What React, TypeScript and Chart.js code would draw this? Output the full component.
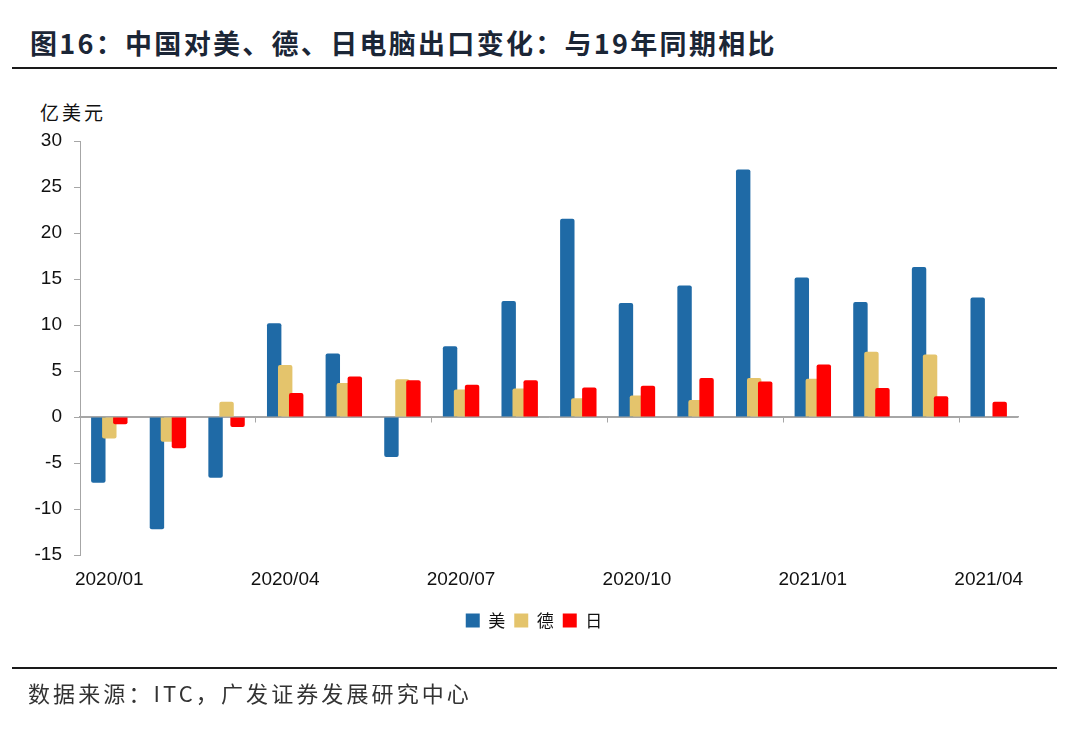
import React, { useEffect, useRef } from "react";
import { Chart, registerables } from "chart.js";

Chart.register(...registerables);

const categories = [
  "2020/01", "2020/02", "2020/03", "2020/04", "2020/05", "2020/06", "2020/07", "2020/08",
  "2020/09", "2020/10", "2020/11", "2020/12", "2021/01", "2021/02", "2021/03", "2021/04",
];
const seriesNames = ["美", "德", "日"];
const usValues = [-7.15, -12.2, -6.6, 10.2, 6.9, -4.35, 7.7, 12.6, 21.55, 12.4, 14.3, 26.9, 15.15, 12.5, 16.3, 13.0];
const deValues = [-2.35, -2.7, 1.65, 5.65, 3.7, 4.1, 3.0, 3.1, 2.05, 2.35, 1.85, 4.25, 4.15, 7.1, 6.8, null];
const jpValues = [-0.8, -3.4, -1.1, 2.6, 4.4, 4.0, 3.5, 4.0, 3.2, 3.4, 4.25, 3.85, 5.7, 3.15, 2.25, 1.65];
const seriesColors = ["#1F6AA6", "#E4C46C", "#FF0000"];
const yMin = -15;
const yMax = 30;
const yStep = 5;
const labelEvery = 3;

const titleText = "图16：中国对美、德、日电脑出口变化：与19年同期相比";
const unitText = "亿美元";
const sourceText = "数据来源：ITC，广发证券发展研究中心";

const drawOrderPlugin = {
  id: "drawOrder",
  beforeDatasetsDraw(chart: any) {
    const metas = chart.getSortedVisibleDatasetMetas();
    for (const meta of metas) meta.controller.draw();
    return false;
  },
};

const legendShiftPlugin = {
  id: "legendShift",
  beforeDraw(chart: any) {
    if (chart.legend) chart.legend.left = 50;
  },
};

export default function App() {
  const ref = useRef<HTMLCanvasElement | null>(null);

  useEffect(() => {
    if (!ref.current) return;
    const axisGray = "#A6A6A6";
    const chart = new Chart(ref.current, {
      type: "bar",
      data: {
        labels: categories,
        datasets: [usValues, deValues, jpValues].map((d, i) => ({
          label: seriesNames[i],
          data: d,
          backgroundColor: seriesColors[i],
          borderWidth: 0,
          borderRadius: 2,
          categoryPercentage: 0.563,
          barPercentage: 1.31,
        })),
      },
      options: {
        responsive: false,
        animation: false,
        events: [],
        layout: { padding: { left: 30, right: 62, top: 141, bottom: 95 } },
        plugins: {
          tooltip: { enabled: false },
          legend: {
            position: "bottom",
            labels: {
              boxWidth: 14,
              boxHeight: 14,
              padding: 9,
              color: "#111",
              font: { family: "'Noto Sans CJK SC'", size: 17 },
            },
          },
        },
        scales: {
          x: {
            type: "category",
            offset: true,
            grid: { display: false },
            border: { display: false },
            afterFit: (s: any) => { s.height = 48; },
            ticks: {
              autoSkip: false,
              maxRotation: 0,
              minRotation: 0,
              padding: 5,
              color: "#111",
              font: { family: "'Liberation Sans', Arial", size: 19 },
              callback: (_v: any, i: number) => (i % labelEvery === 0 ? categories[i] : ""),
            },
          },
          x2: {
            type: "category",
            position: { y: 0 } as any,
            offset: true,
            z: 1,
            grid: {
              display: true,
              offset: true,
              drawOnChartArea: false,
              drawTicks: true,
              tickLength: 5,
              color: (ctx: any) =>
                typeof ctx.index === "number" && ctx.index > 0 && ctx.index % labelEvery === 0
                  ? axisGray
                  : "rgba(0,0,0,0)",
            },
            border: { display: true, color: axisGray, width: 1.5 },
            ticks: { display: false },
          },
          y: {
            min: yMin,
            max: yMax,
            afterFit: (s: any) => { s.width = 50; },
            grid: {
              drawOnChartArea: true,
              drawTicks: true,
              tickLength: 6,
              tickColor: axisGray,
              color: (ctx: any) => (ctx.tick && ctx.tick.value === 0 ? axisGray : "rgba(0,0,0,0)"),
            },
            border: { display: true, color: axisGray, width: 1 },
            ticks: {
              stepSize: yStep,
              padding: 12,
              color: "#111",
              font: { family: "'Liberation Sans', Arial", size: 19 },
            },
          },
        },
      },
      plugins: [drawOrderPlugin, legendShiftPlugin],
    } as any);
    return () => chart.destroy();
  }, []);

  return (
    <div
      style={{
        position: "absolute",
        left: 0,
        top: 0,
        width: 1080,
        height: 734,
        background: "#fff",
        overflow: "hidden",
        fontFamily: "'Noto Sans CJK SC', sans-serif",
      }}
    >
      <div
        style={{
          position: "absolute",
          left: 30,
          top: 27,
          fontSize: 27,
          lineHeight: "31px",
          fontWeight: 700,
          color: "#1B2636",
          letterSpacing: 2.3,
          whiteSpace: "nowrap",
        }}
      >
        {titleText}
      </div>
      <div style={{ position: "absolute", left: 12, top: 67, width: 1045, height: 2, background: "#1a1a1a" }} />
      <div
        style={{
          position: "absolute",
          left: 40,
          top: 100,
          fontSize: 19,
          lineHeight: "24px",
          color: "#111",
          letterSpacing: 3,
          whiteSpace: "nowrap",
        }}
      >
        {unitText}
      </div>
      <canvas
        ref={ref}
        width={1080}
        height={734}
        style={{ position: "absolute", left: 0, top: 0, width: 1080, height: 734 }}
      />
      <div style={{ position: "absolute", left: 12, top: 667, width: 1045, height: 2, background: "#1a1a1a" }} />
      <div
        style={{
          position: "absolute",
          left: 28,
          top: 677,
          fontSize: 22,
          lineHeight: "30px",
          color: "#333",
          letterSpacing: 3.1,
          whiteSpace: "nowrap",
        }}
      >
        {sourceText}
      </div>
    </div>
  );
}
